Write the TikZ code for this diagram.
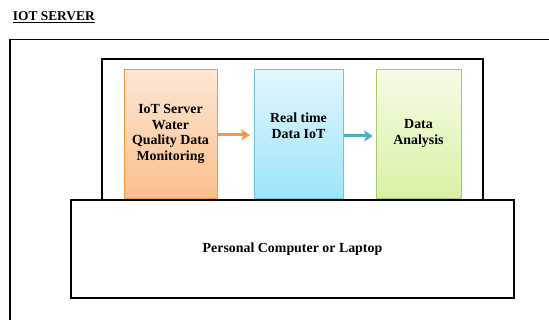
\documentclass[tikz,border=0pt]{standalone}
\usepackage{fontspec}
\setmainfont{Liberation Serif}
\usetikzlibrary{arrows.meta}
\definecolor{orB}{HTML}{F79646}
\definecolor{orT}{HTML}{FDE6D4}
\definecolor{orD}{HTML}{FABF8C}
\definecolor{blB}{HTML}{6EC6DE}
\definecolor{blT}{HTML}{E2F6FD}
\definecolor{blD}{HTML}{9DE5FA}
\definecolor{grB}{HTML}{A9C96A}
\definecolor{grT}{HTML}{F5FBE6}
\definecolor{grD}{HTML}{D8F2A4}
\definecolor{arB}{HTML}{4BACC6}
\tikzset{
  frame/.style={draw=black, line width=1.6pt},
  cbox/.style={draw, line width=0.9pt, minimum width=#1, minimum height=129pt, inner sep=0pt},
  txt/.style={font=\bfseries\fontsize{13.9}{15.6}\selectfont, align=center, text=black},
  conn/.style={line width=3pt, -{Stealth[length=9pt,width=11pt,inset=2.5pt]}}
}
\begin{document}
\begin{tikzpicture}[x=1pt,y=-1pt]
\useasboundingbox (0,0) rectangle (549,320);
% title
\node[anchor=base west, inner sep=0pt, font=\bfseries\fontsize{13.4}{15}\selectfont] (title) at (12.7,20.5) {\underline{IOT SERVER}};
% outer frame (partly outside the picture)
\draw[frame] (10,320) -- (10,39.5) -- (549,39.5);
% inner frame (monitor)
\node[frame, minimum width=381pt, minimum height=142pt, inner sep=0pt, anchor=north west] (mon) at (101,58) {};
% colored boxes
\node[cbox=93pt, draw=orB, top color=orT, bottom color=orD, anchor=north west] (b1) at (124,69.5) {};
\node[cbox=89pt, draw=blB, top color=blT, bottom color=blD, anchor=north west] (b2) at (254,69.5) {};
\node[cbox=85pt, draw=grB, top color=grT, bottom color=grD, anchor=north west] (b3) at (376,69.5) {};
\node[txt] (t1) at (170.5,134) {IoT Server\\Water\\Quality Data\\Monitoring};
\node[txt] (t2) at (298.5,126) {Real time\\Data IoT};
\node[txt] (t3) at (418.5,133.5) {Data\\Analysis};
% PC box
\node[frame, line width=2pt, fill=white, minimum width=443pt, minimum height=98pt, inner sep=0pt, anchor=north west, txt] (pc) at (70,199.5) {Personal Computer or Laptop};
% arrows
\draw[conn, draw=orB, color=orB, shorten >=4pt] (b1.east |- 0,135) -- (b2.west |- 0,135);
\draw[conn, draw=arB, color=arB, shorten >=3pt] (b2.east |- 0,136) -- (b3.west |- 0,136);
\end{tikzpicture}
\end{document}
